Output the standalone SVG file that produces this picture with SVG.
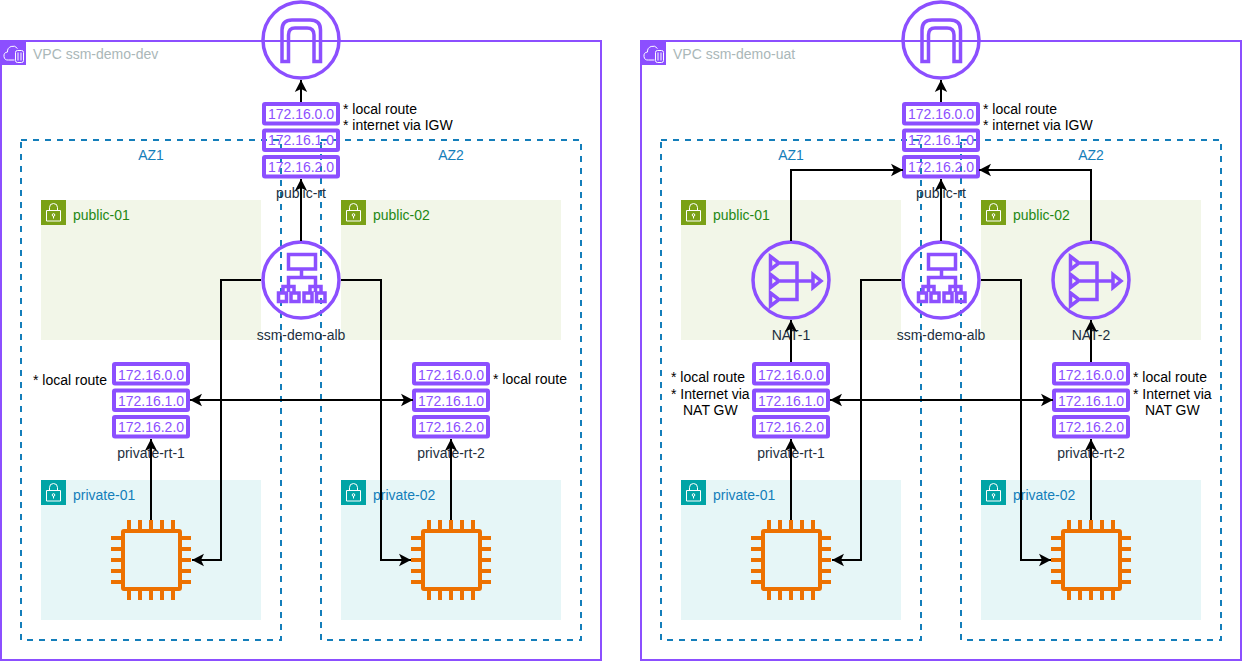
<svg xmlns="http://www.w3.org/2000/svg" xmlns:xlink="http://www.w3.org/1999/xlink" width="1253" height="662" viewBox="0 0 1253 662">
<style>
text{font-family:"Liberation Sans",Arial,sans-serif;font-size:14px}
.vpc{fill:none;stroke:#8C4FFF;stroke-width:2}
.az{fill:none;stroke:#147EBA;stroke-width:2;stroke-dasharray:6 6}
.ic{fill:none;stroke:#8C4FFF;stroke-width:3.500}
.rb{fill:none;stroke:#8C4FFF;stroke-width:4}
.rt{fill:#8C4FFF;text-anchor:middle}
.lb{fill:#232F3E;text-anchor:middle}
.note{fill:#000}
.vl{fill:#AAB7B8}
.azl{fill:#147EBA;text-anchor:middle}
.pub{fill:#F2F6E8}.pri{fill:#E6F6F7}
.pubt{fill:#248814}.prit{fill:#147EBA}
.w{fill:none;stroke:#fff;stroke-width:1}
.con{fill:none;stroke:#000;stroke-width:2}
.arr{marker-end:url(#a)}
.both{marker-start:url(#a);marker-end:url(#a)}
.chip{fill:none;stroke:#ED7100;stroke-width:4}
</style>
<defs>
<marker id="a" markerUnits="userSpaceOnUse" markerWidth="14" markerHeight="14" refX="12.500" refY="7" orient="auto-start-reverse"><path d="M12.500 7L0.500 0.800L3.500 7L0.500 13.200Z" fill="#000"/></marker>
<g id="lock"><path class="w" d="M8.500 10.500V7.500a4 4 0 0 1 8 0v3M5.500 10.500h14v10.500h-14zM12.500 18.500v-2.500"/><circle class="w" cx="12.500" cy="15" r="1.300"/></g>
<g id="igw"><circle class="ic" cx="301" cy="40" r="38"/><path class="ic" d="M282 61.500V30Q282 20 292 20H310Q320.500 20 320.500 30V61.500H314V35Q314 28 307 28H295Q288.500 28 288.500 35V61.500Z"/></g>
<g id="alb"><circle class="ic" cx="301" cy="280" r="38"/><path class="ic" d="M288.500 254.500H315.500V269H288.500ZM301.500 269V276.500M288.500 292V277.500H315.500V292M283 292V286.500H294V292M310 292V286.500H321V292M278.500 293H286.500V301.500H278.500ZM291 293H299V301.500H291ZM304 293H312V301.500H304ZM316.500 293H325V301.500H316.500Z"/></g>
<g id="nat"><circle class="ic" cx="791" cy="280" r="38"/><path class="ic" d="M770.500 256.500L779 263L770.500 269.500ZM770.500 274.500L779 281L770.500 287.500ZM770.500 293L779 299.500L770.500 306ZM780 263H797V299.500H780M780 281H812M813 274.500L821 281L813 287.500Z"/></g>
<g id="chip"><rect class="chip" x="123" y="531" width="57" height="58" rx="1"/><path class="chip" d="M129 520V529M140 520V529M151 520V529M162 520V529M173 520V529M129 590V600M140 590V600M151 590V600M162 590V600M173 590V600M111 538H121M111 549H121M111 560H121M111 571H121M111 582H121M182 538H191M182 549H191M182 560H191M182 571H191M182 582H191"/></g>
</defs>

<g id="vpc-dev"><rect class="vpc" x="1" y="41" width="600" height="619"/><rect x="0" y="40" width="26" height="25" fill="#8C4FFF"/><path class="w" d="M14.500 60H8.500a4 4 0 0 1-1-8a5.500 5.500 0 0 1 10-3.500"/><rect class="w" x="15.500" y="50.500" width="8" height="12" rx="2"/><path class="w" d="M18 52.500V60.500M21 52.500V60.500"/><text class="vl" x="33" y="59">VPC ssm-demo-dev</text></g>
<g id="vpc-uat"><rect class="vpc" x="641" y="41" width="600" height="619"/><rect x="640" y="40" width="26" height="25" fill="#8C4FFF"/><path class="w" d="M654.500 60H648.500a4 4 0 0 1-1-8a5.500 5.500 0 0 1 10-3.500"/><rect class="w" x="655.500" y="50.500" width="8" height="12" rx="2"/><path class="w" d="M658 52.500V60.500M661 52.500V60.500"/><text class="vl" x="673" y="59">VPC ssm-demo-uat</text></g>

<g id="subnets-dev">
<g id="public-01-dev"><rect class="pub" x="41" y="200" width="220" height="140"/><rect x="41" y="200" width="25" height="25" fill="#7AA116"/><use xlink:href="#lock" href="#lock" x="41" y="200"/><text class="pubt" x="73" y="220">public-01</text></g>
<g id="public-02-dev"><rect class="pub" x="341" y="200" width="220" height="140"/><rect x="341" y="200" width="25" height="25" fill="#7AA116"/><use xlink:href="#lock" href="#lock" x="341" y="200"/><text class="pubt" x="373" y="220">public-02</text></g>
<g id="private-01-dev"><rect class="pri" x="41" y="480" width="220" height="140"/><rect x="41" y="480" width="25" height="25" fill="#00A4A6"/><use xlink:href="#lock" href="#lock" x="41" y="480"/><text class="prit" x="73" y="500">private-01</text></g>
<g id="private-02-dev"><rect class="pri" x="341" y="480" width="220" height="140"/><rect x="341" y="480" width="25" height="25" fill="#00A4A6"/><use xlink:href="#lock" href="#lock" x="341" y="480"/><text class="prit" x="373" y="500">private-02</text></g>
</g>
<g id="subnets-uat">
<g id="public-01-uat"><rect class="pub" x="681" y="200" width="220" height="140"/><rect x="681" y="200" width="25" height="25" fill="#7AA116"/><use xlink:href="#lock" href="#lock" x="681" y="200"/><text class="pubt" x="713" y="220">public-01</text></g>
<g id="public-02-uat"><rect class="pub" x="981" y="200" width="220" height="140"/><rect x="981" y="200" width="25" height="25" fill="#7AA116"/><use xlink:href="#lock" href="#lock" x="981" y="200"/><text class="pubt" x="1013" y="220">public-02</text></g>
<g id="private-01-uat"><rect class="pri" x="681" y="480" width="220" height="140"/><rect x="681" y="480" width="25" height="25" fill="#00A4A6"/><use xlink:href="#lock" href="#lock" x="681" y="480"/><text class="prit" x="713" y="500">private-01</text></g>
<g id="private-02-uat"><rect class="pri" x="981" y="480" width="220" height="140"/><rect x="981" y="480" width="25" height="25" fill="#00A4A6"/><use xlink:href="#lock" href="#lock" x="981" y="480"/><text class="prit" x="1013" y="500">private-02</text></g>
</g>

<g id="az-dev"><rect class="az" x="21" y="140" width="260" height="500"/><rect class="az" x="321" y="140" width="260" height="500"/><text class="azl" x="151" y="160">AZ1</text><text class="azl" x="451" y="160">AZ2</text></g>
<g id="az-uat"><rect class="az" x="661" y="140" width="260" height="500"/><rect class="az" x="961" y="140" width="260" height="500"/><text class="azl" x="791" y="160">AZ1</text><text class="azl" x="1091" y="160">AZ2</text></g>

<g id="igw-dev"><use xlink:href="#igw" href="#igw"/></g>
<g id="igw-uat"><use xlink:href="#igw" href="#igw" x="640"/></g>

<g id="public-rt-dev"><rect class="rb" x="264" y="104" width="74" height="19.500" rx="1"/><rect class="rb" x="264" y="130.500" width="74" height="19.500" rx="1"/><rect class="rb" x="264" y="157" width="74" height="19.500" rx="1"/><text class="rt" x="301" y="119">172.16.0.0</text><text class="rt" x="301" y="145">172.16.1.0</text><text class="rt" x="301" y="171.500">172.16.2.0</text><text class="lb" x="301" y="198">public-rt</text><text class="note" x="343" y="114">* local route</text><text class="note" x="343" y="130">* internet via IGW</text></g>
<g id="public-rt-uat"><rect class="rb" x="904" y="104" width="74" height="19.500" rx="1"/><rect class="rb" x="904" y="130.500" width="74" height="19.500" rx="1"/><rect class="rb" x="904" y="157" width="74" height="19.500" rx="1"/><text class="rt" x="941" y="119">172.16.0.0</text><text class="rt" x="941" y="145">172.16.1.0</text><text class="rt" x="941" y="171.500">172.16.2.0</text><text class="lb" x="941" y="198">public-rt</text><text class="note" x="983" y="114">* local route</text><text class="note" x="983" y="130">* internet via IGW</text></g>

<g id="private-rt-1-dev"><rect class="rb" x="114" y="364" width="74" height="19.500" rx="1"/><rect class="rb" x="114" y="390.500" width="74" height="19.500" rx="1"/><rect class="rb" x="114" y="417" width="74" height="19.500" rx="1"/><text class="rt" x="151" y="379.500">172.16.0.0</text><text class="rt" x="151" y="405.500">172.16.1.0</text><text class="rt" x="151" y="432">172.16.2.0</text><text class="lb" x="151" y="458">private-rt-1</text><text class="note" x="33" y="385">* local route</text></g>
<g id="private-rt-2-dev"><rect class="rb" x="414" y="364" width="74" height="19.500" rx="1"/><rect class="rb" x="414" y="390.500" width="74" height="19.500" rx="1"/><rect class="rb" x="414" y="417" width="74" height="19.500" rx="1"/><text class="rt" x="451" y="379.500">172.16.0.0</text><text class="rt" x="451" y="405.500">172.16.1.0</text><text class="rt" x="451" y="432">172.16.2.0</text><text class="lb" x="451" y="458">private-rt-2</text><text class="note" x="493" y="384">* local route</text></g>
<g id="private-rt-1-uat"><rect class="rb" x="754" y="364" width="74" height="19.500" rx="1"/><rect class="rb" x="754" y="390.500" width="74" height="19.500" rx="1"/><rect class="rb" x="754" y="417" width="74" height="19.500" rx="1"/><text class="rt" x="791" y="379.500">172.16.0.0</text><text class="rt" x="791" y="405.500">172.16.1.0</text><text class="rt" x="791" y="432">172.16.2.0</text><text class="lb" x="791" y="458">private-rt-1</text><text class="note" x="671" y="382">* local route</text><text class="note" x="671" y="399">* Internet via</text><text class="note" x="683" y="415">NAT GW</text></g>
<g id="private-rt-2-uat"><rect class="rb" x="1054" y="364" width="74" height="19.500" rx="1"/><rect class="rb" x="1054" y="390.500" width="74" height="19.500" rx="1"/><rect class="rb" x="1054" y="417" width="74" height="19.500" rx="1"/><text class="rt" x="1091" y="379.500">172.16.0.0</text><text class="rt" x="1091" y="405.500">172.16.1.0</text><text class="rt" x="1091" y="432">172.16.2.0</text><text class="lb" x="1091" y="458">private-rt-2</text><text class="note" x="1133" y="382">* local route</text><text class="note" x="1133" y="399">* Internet via</text><text class="note" x="1145" y="415">NAT GW</text></g>

<g id="alb-dev"><use xlink:href="#alb" href="#alb"/><text class="lb" x="301" y="340">ssm-demo-alb</text></g>
<g id="alb-uat"><use xlink:href="#alb" href="#alb" x="640"/><text class="lb" x="941" y="340">ssm-demo-alb</text></g>
<g id="nat-1"><use xlink:href="#nat" href="#nat"/><text class="lb" x="791" y="340">NAT-1</text></g>
<g id="nat-2"><use xlink:href="#nat" href="#nat" x="300"/><text class="lb" x="1091" y="340">NAT-2</text></g>

<g id="ec2-1-dev"><use xlink:href="#chip" href="#chip"/></g>
<g id="ec2-2-dev"><use xlink:href="#chip" href="#chip" x="300"/></g>
<g id="ec2-1-uat"><use xlink:href="#chip" href="#chip" x="640"/></g>
<g id="ec2-2-uat"><use xlink:href="#chip" href="#chip" x="940"/></g>

<g id="connectors">
<path class="con arr" d="M301 102V80"/>
<path class="con arr" d="M301 241V179"/>
<path class="con arr" d="M261 280H221V560H192"/>
<path class="con arr" d="M341 280H381V560H411"/>
<path class="con both" d="M190 400H413"/>
<path class="con arr" d="M151 520V439"/>
<path class="con arr" d="M451 520V439"/>
<path class="con arr" d="M941 102V80"/>
<path class="con arr" d="M941 241V179"/>
<path class="con arr" d="M901 280H861V560H832"/>
<path class="con arr" d="M981 280H1021V560H1051"/>
<path class="con both" d="M830 400H1053"/>
<path class="con arr" d="M791 520V439"/>
<path class="con arr" d="M1091 520V439"/>
<path class="con arr" d="M791 362V320"/>
<path class="con arr" d="M1091 362V320"/>
<path class="con arr" d="M791 241V170H903"/>
<path class="con arr" d="M1091 241V170H979"/>
</g>
</svg>
